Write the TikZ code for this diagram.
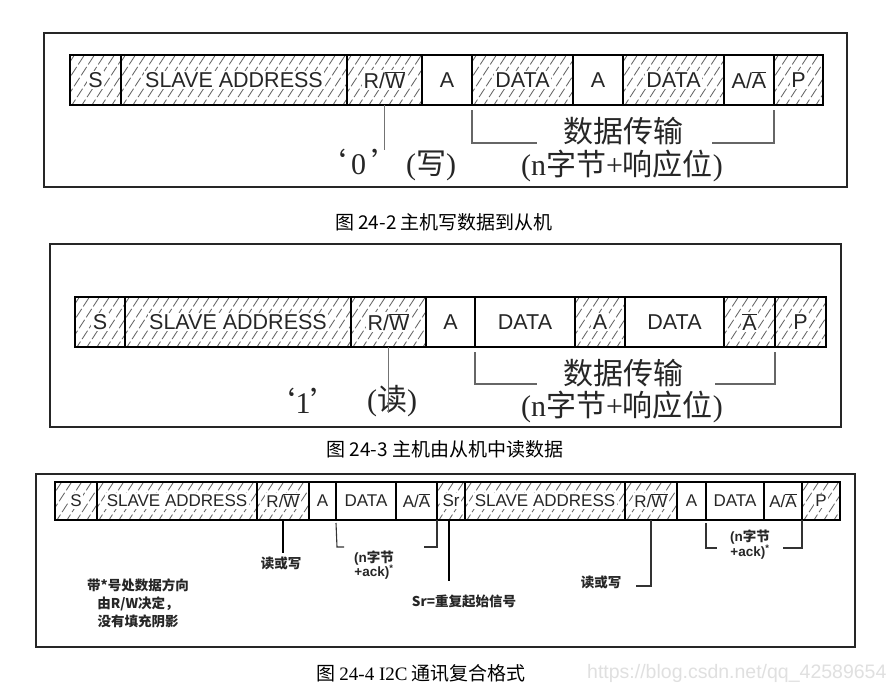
\documentclass[tikz,border=0pt]{standalone}
\usepackage{fontspec}
\setmainfont{Liberation Sans}
\newfontfamily\cjk{Noto Sans CJK SC}
\newfontfamily\serifm{Liberation Serif}
\usetikzlibrary{calc}
\setlength{\fboxsep}{1.5pt}
\newcommand{\wb}[1]{\colorbox{white}{#1}}
\tikzset{
  hl/.style={draw=black!60, line width=0.85pt, dash pattern=on 10pt off 3pt},
  hatch/.style={path picture={
    \foreach \k in {-10,...,30}{
      \draw[hl] ([xshift=\k*10pt, yshift=-3pt]path picture bounding box.south west) -- ++(57:90pt);
    }}},
  fld/.style={draw=black, line width=1.3pt, inner sep=0pt, outer sep=0pt, anchor=west,
    minimum height=50pt, font=\fontsize{21.5}{24}\selectfont, text=black!85},
  fldS/.style={fld, minimum height=38pt, line width=1.1pt, font=\fontsize{17}{20}\selectfont},
  frm/.style={draw=black!85, line width=1.5pt},
  brk/.style={draw=black!60, line width=1.1pt},
  brkS/.style={draw=black!80, line width=1.1pt},
  tick/.style={draw=black!55, line width=1pt},
  tickB/.style={draw=black, line width=1.8pt},
  big/.style={font=\cjk\fontsize{30}{32}\selectfont, inner sep=0pt, text=black!85},
  captxt/.style={font=\cjk\fontsize{19}{22}\selectfont, inner sep=0pt},
  sm/.style={font=\cjk\bfseries\fontsize{13.5}{18}\selectfont, inner sep=0pt, align=center, text=black!85},
  smL/.style={font=\bfseries\fontsize{13.5}{17}\selectfont, inner sep=0pt, text=black!85},
}
\newcommand{\ovl}[1]{$\overline{\hbox{#1}}$}
\begin{document}
\begin{tikzpicture}[x=1pt,y=-1pt]
\useasboundingbox[fill=white] (0,0) rectangle (891,691);

% ---------- panel 1 ----------
\draw[frm] (44,33) rectangle (847,187);
\node[fld,hatch,minimum width=51pt]  (s1)  at (70,80)  {\wb{S}};
\node[fld,hatch,minimum width=226pt] (sa1) at (121,80) {\wb{SLAVE ADDRESS}};
\node[fld,hatch,minimum width=75pt]  (rw1) at (347,80) {\wb{R/\ovl{W}}};
\node[fld,minimum width=50pt]        (a1)  at (422,80) {A};
\node[fld,hatch,minimum width=101pt] (d1)  at (472,80) {\wb{DATA}};
\node[fld,minimum width=50pt]        (a1b) at (573,80) {A};
\node[fld,hatch,minimum width=101pt] (d1b) at (623,80) {\wb{DATA}};
\node[fld,minimum width=50pt]        (aa1) at (724,80) {A/\ovl{A}};
\node[fld,hatch,minimum width=49pt]  (p1)  at (774,80) {\wb{P}};

\coordinate (rw1e) at (384.5,150);
\draw[tick] (rw1.south) -- (rw1e);
\node[big] (w0) at (386,165) {‘\,{\serifm 0}\,’\,{\serifm (}写{\serifm )}};

\coordinate (b1l) at (472,143);
\coordinate (b1le) at (537,143);
\coordinate (b1r) at (774,143);
\coordinate (b1re) at (712,143);
\draw[brk] ([yshift=-5pt]d1.south west) -- (b1l) -- (b1le);
\draw[brk] ([yshift=-5pt]p1.south west) -- (b1r) -- (b1re);
\node[big] (dt1) at (623,131) {数据传输};
\node[big] (nb1) at (622,166) {{\serifm (n}字节{\serifm +}响应位{\serifm )}};

\node[captxt] (c1) at (444,222) {图 24-2 主机写数据到从机};

% ---------- panel 2 ----------
\draw[frm] (50,244) rectangle (841,427);
\node[fld,hatch,minimum width=50pt]  (s2)  at (75,322)  {\wb{S}};
\node[fld,hatch,minimum width=226pt] (sa2) at (125,322) {\wb{SLAVE ADDRESS}};
\node[fld,hatch,minimum width=75pt]  (rw2) at (351,322) {\wb{R/\ovl{W}}};
\node[fld,minimum width=49pt]        (a2)  at (426,322) {A};
\node[fld,minimum width=100pt]       (d2)  at (475,322) {DATA};
\node[fld,hatch,minimum width=50pt]  (a2b) at (575,322) {\wb{A}};
\node[fld,minimum width=99pt]        (d2b) at (625,322) {DATA};
\node[fld,hatch,minimum width=51pt]  (na2) at (724,322) {\wb{\ovl{A}}};
\node[fld,hatch,minimum width=51pt]  (p2)  at (775,322) {\wb{P}};

\node[big] (one) at (303,401) {‘{\serifm 1}’};
\node[big] (rd) at (392,401) {{\serifm (}读{\serifm )}};
\coordinate (rw2e) at (388.5,413);
\draw[tick] (rw2.south) -- (rw2e);

\coordinate (b2l) at (475,384);
\coordinate (b2le) at (537,384);
\coordinate (b2r) at (775,384);
\coordinate (b2re) at (715,384);
\draw[brk] ([yshift=-5pt]d2.south west) -- (b2l) -- (b2le);
\draw[brk] ([yshift=-5pt]p2.south west) -- (b2r) -- (b2re);
\node[big] (dt2) at (623,373) {数据传输};
\node[big] (nb2) at (622,407) {{\serifm (n}字节{\serifm +}响应位{\serifm )}};

\node[captxt] (c2) at (445,449) {图 24-3 主机由从机中读数据};

% ---------- panel 3 ----------
\draw[frm] (36,474) rectangle (855,647);
\node[fldS,hatch,minimum width=42pt]  (s3)   at (55,501)  {\wb{S}};
\node[fldS,hatch,minimum width=160pt] (sa3)  at (97,501)  {\wb{SLAVE ADDRESS}};
\node[fldS,hatch,minimum width=52pt]  (rw3)  at (257,501) {\wb{R/\ovl{W}}};
\node[fldS,minimum width=27pt]        (a3)   at (309,501) {A};
\node[fldS,minimum width=60pt]        (d3)   at (336,501) {DATA};
\node[fldS,minimum width=41pt]        (aa3)  at (396,501) {A/\ovl{A}};
\node[fldS,hatch,minimum width=28pt]  (sr3)  at (437,501) {\wb{Sr}};
\node[fldS,hatch,minimum width=160pt] (sa3b) at (465,501) {\wb{SLAVE ADDRESS}};
\node[fldS,hatch,minimum width=52pt]  (rw3b) at (625,501) {\wb{R/\ovl{W}}};
\node[fldS,minimum width=29pt]        (a3b)  at (677,501) {A};
\node[fldS,minimum width=58pt]        (d3b)  at (706,501) {DATA};
\node[fldS,minimum width=38pt]        (aa3b) at (764,501) {A/\ovl{A}};
\node[fldS,hatch,minimum width=38pt]  (p3)   at (802,501) {\wb{P}};

% R/W tick 1
\node[sm] (rw3t) at (281,563) {读或写};
\draw[tickB] (rw3.south) -- ([yshift=3pt]rw3t.north -| rw3.south);
% bracket 1
\coordinate (b3l) at (337,547);
\coordinate (b3le) at (344,547);
\coordinate (b3r) at (437,547);
\coordinate (b3re) at (424,547);
\draw[brkS] ([yshift=-3pt]d3.south west) -- (b3l) -- (b3le);
\draw[brkS] (aa3.south east) -- (b3r) -- (b3re);
\node[smL] (nb3) at (374,558) {(n{\cjk 字节}};
\node[smL] (ak3) at (374,572) {+ack)\textsuperscript{*}};
% Sr tick
\node[sm] (srt) at (464,601) {Sr=重复起始信号};
\coordinate (sre) at (449,581);
\draw[tickB] ([xshift=-2pt]sr3.south) -- (sre);
% R/W tick 2
\node[sm] (rw3bt) at (601,582) {读或写};
\coordinate (rwc) at (651,586);
\coordinate (rwe) at (636,586);
\draw[brkS] (rw3b.south) -- (rwc) -- (rwe);
% bracket 2
\coordinate (b4l) at (706,548);
\coordinate (b4le) at (717,548);
\coordinate (b4r) at (802,548);
\coordinate (b4re) at (783,548);
\draw[brkS] ([yshift=-3pt]d3b.south west) -- (b4l) -- (b4le);
\draw[brkS] (p3.south west) -- (b4r) -- (b4re);
\node[smL] (nb4) at (750,537) {(n{\cjk 字节}};
\node[smL] (ak4) at (750,552) {+ack)\textsuperscript{*}};
% note
\node[sm] (note) at (138,603) {带*号处数据方向\\由R/W决定，\\没有填充阴影};

\node[font=\cjk\fontsize{19}{22}\selectfont, inner sep=0pt] (c3) at (421,673) {图 {\serifm 24-4 I2C} 通讯复合格式};
\node[font=\fontsize{19.5}{22}\selectfont, text=black!12, inner sep=0pt, anchor=west] (wm) at (587,673) {https://blog.csdn.net/qq\_42589654};
\end{tikzpicture}
\end{document}
